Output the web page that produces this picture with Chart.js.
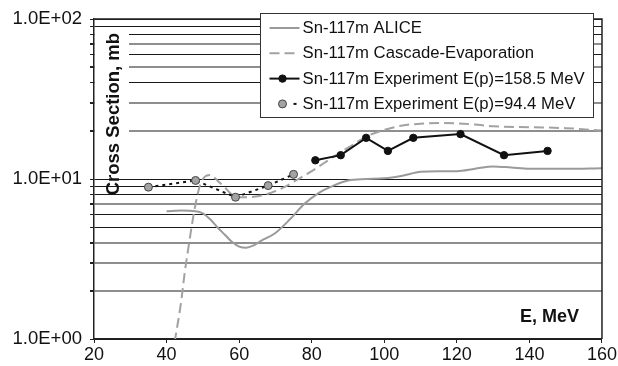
<!DOCTYPE html>
<html>
<head>
<meta charset="utf-8">
<script src="https://cdn.jsdelivr.net/npm/chart.js@4.4.0/dist/chart.umd.min.js"></script>
<style>
  html, body { margin: 0; padding: 0; background: #fff; }
  #chart { display: block; }
</style>
</head>
<body>
<canvas id="chart" width="618" height="366"></canvas>
<script>
// data

const seriesLabels = [
  "Sn-117m ALICE",
  "Sn-117m Cascade-Evaporation",
  "Sn-117m Experiment E(p)=158.5 MeV",
  "Sn-117m Experiment E(p)=94.4 MeV",
];

const aliceE = [40, 44, 48, 50, 52, 54, 56, 58, 60, 62, 64, 66, 70, 74, 78, 82, 86, 90, 95, 100, 105, 110, 115, 120, 125, 130, 135, 140, 150, 160];
const aliceCS = [6.3, 6.35, 6.3, 6.1, 5.6, 5.0, 4.5, 4.05, 3.78, 3.72, 3.85, 4.1, 4.6, 5.6, 7.0, 8.2, 9.1, 9.8, 10.0, 10.1, 10.5, 11.1, 11.2, 11.2, 11.6, 12.0, 11.8, 11.6, 11.6, 11.7];

const cascadeE = [42.2, 44, 45, 46, 47, 48, 49, 50, 51, 52, 53, 54, 56, 58, 60, 64, 68, 72, 76, 80, 85, 90, 95, 100, 105, 110, 115, 120, 125, 130, 140, 150, 160];
const cascadeCS = [0.95, 1.7, 2.6, 3.7, 5.2, 7.0, 8.8, 10.0, 10.5, 10.6, 10.3, 9.8, 8.9, 8.0, 7.7, 7.75, 8.1, 8.8, 9.9, 11.2, 13.3, 15.7, 18.4, 20.3, 21.6, 22.2, 22.4, 22.3, 21.9, 21.4, 21.1, 20.8, 20.1];

const exp158E = [81, 88, 95, 101, 108, 121, 133, 145];
const exp158CS = [13.1, 14.1, 18.1, 15.0, 18.1, 19.1, 14.1, 15.0];

const exp94E = [35, 48, 59, 68, 75];
const exp94CS = [8.9, 9.8, 7.7, 9.1, 10.7];

const xTicks = [20, 40, 60, 80, 100, 120, 140, 160];
const yGridValues = [1, 2, 3, 4, 5, 6, 7, 8, 9, 10, 20, 30, 40, 50, 60, 70, 80, 90, 100];
const yLabelValues = [1, 10, 100];
// grid lines that come out light grey in the picture
const greyGrid = [2, 3, 4, 7, 20, 30, 50, 70];

const xTitle = "E, MeV";
const yTitle = "Cross Section, mb";

const FONT = "'Liberation Sans', Arial, Helvetica, sans-serif";

const pts = (xs, ys) => xs.map((x, i) => ({ x: x, y: ys[i] }));

// titles drawn inside the plot, the y one on a white patch

const axisTitles = {
  id: "axisTitles",
  beforeDatasetsDraw(chart) {
    const { ctx, chartArea } = chart;
    ctx.save();
    ctx.fillStyle = "#fff";
    ctx.fillRect(chartArea.left + 1, chartArea.top + 9, 34, 107);
    ctx.translate(chartArea.left + 20, chartArea.top + 95);
    ctx.rotate(-Math.PI / 2);
    ctx.fillStyle = "#111";
    ctx.font = "bold 18.5px " + FONT;
    ctx.textAlign = "center";
    ctx.textBaseline = "middle";
    ctx.fillText(yTitle, 0, 0);
    ctx.restore();

    ctx.save();
    ctx.fillStyle = "#111";
    ctx.font = "bold 18px " + FONT;
    ctx.textAlign = "right";
    ctx.textBaseline = "alphabetic";
    ctx.fillText(xTitle, chartArea.right - 23, chartArea.bottom - 17);
    ctx.restore();
  },
  afterDraw(chart) {
    const { ctx, chartArea } = chart;
    ctx.save();
    ctx.strokeStyle = "#222";
    ctx.lineWidth = 1.5;
    ctx.beginPath();
    ctx.moveTo(chartArea.left, chartArea.top);
    ctx.lineTo(chartArea.right, chartArea.top);
    ctx.lineTo(chartArea.right, chartArea.bottom);
    ctx.stroke();
    ctx.restore();
  },
};

// boxed legend in the top right corner

const boxLegend = {
  id: "boxLegend",
  afterDraw(chart) {
    const { ctx } = chart;
    const left = 260.5, top = 13.5, w = 333, h = 104;
    ctx.save();
    ctx.fillStyle = "#fff";
    ctx.fillRect(left, top, w, h);
    ctx.strokeStyle = "#333";
    ctx.lineWidth = 1;
    ctx.strokeRect(left, top, w, h);

    ctx.font = "16.7px " + FONT;
    ctx.textBaseline = "middle";
    ctx.textAlign = "left";
    chart.data.datasets.forEach((ds, i) => {
      const y = top + 14.5 + i * 25.3;
      const x0 = left + 9, x1 = left + 39;
      ctx.save();
      ctx.strokeStyle = ds.borderColor;
      ctx.lineWidth = ds.borderWidth;
      ctx.setLineDash(ds.borderDash || []);
      ctx.beginPath();
      if (i === 3) {
        ctx.moveTo(x0 + 24, y);
      } else {
        ctx.moveTo(x0, y);
      }
      ctx.lineTo(x1, y);
      ctx.stroke();
      ctx.setLineDash([]);
      if (ds.pointRadius > 0) {
        ctx.beginPath();
        ctx.arc(x0 + 13, y, ds.pointRadius, 0, Math.PI * 2);
        ctx.fillStyle = ds.pointBackgroundColor;
        ctx.fill();
        ctx.lineWidth = ds.pointBorderWidth;
        ctx.strokeStyle = ds.pointBorderColor;
        ctx.stroke();
      }
      ctx.restore();
      ctx.fillStyle = "#111";
      ctx.fillText(ds.label, left + 42, y + 0.5);
    });
    ctx.restore();
  },
};

new Chart(document.querySelector("#chart").getContext("2d"), {
  type: "line",
  data: {
    datasets: [
      {
        label: seriesLabels[0],
        data: pts(aliceE, aliceCS),
        borderColor: "#9a9a9a",
        borderWidth: 2,
        pointRadius: 0,
        cubicInterpolationMode: "monotone",
        order: 2,
      },
      {
        label: seriesLabels[1],
        data: pts(cascadeE, cascadeCS),
        borderColor: "#a2a2a2",
        borderWidth: 2,
        borderDash: [10, 5],
        pointRadius: 0,
        cubicInterpolationMode: "monotone",
        order: 2,
      },
      {
        label: seriesLabels[2],
        data: pts(exp158E, exp158CS),
        borderColor: "#111",
        borderWidth: 2,
        pointRadius: 3.7,
        pointBackgroundColor: "#111",
        pointBorderColor: "#111",
        pointBorderWidth: 1,
        order: 0,
      },
      {
        label: seriesLabels[3],
        data: pts(exp94E, exp94CS),
        borderColor: "#111",
        borderWidth: 2,
        borderDash: [3, 4],
        pointRadius: 4,
        pointBackgroundColor: "#a3a3a3",
        pointBorderColor: "#444",
        pointBorderWidth: 1,
        order: 0,
      },
    ],
  },
  options: {
    responsive: false,
    animation: false,
    layout: { padding: { top: 19, right: 15, left: 0, bottom: 0 } },
    plugins: {
      legend: { display: false },
      tooltip: { enabled: false },
    },
    scales: {
      x: {
        type: "linear",
        min: 20,
        max: 160,
        afterBuildTicks: (scale) => {
          scale.ticks = xTicks.map((v) => ({ value: v }));
        },
        afterFit: (scale) => {
          scale.height = 27;
        },
        grid: {
          drawOnChartArea: false,
          drawTicks: true,
          tickLength: 4,
          tickColor: "#222",
        },
        border: { color: "#222", width: 1.5 },
        ticks: {
          color: "#111",
          font: { family: FONT, size: 18 },
          padding: 1,
          maxRotation: 0,
          autoSkip: false,
        },
      },
      y: {
        type: "logarithmic",
        min: 1,
        max: 100,
        afterBuildTicks: (scale) => {
          scale.ticks = yGridValues.map((v) => ({ value: v }));
        },
        afterFit: (scale) => {
          scale.width = 94;
        },
        grid: {
          color: (c) => (greyGrid.includes(c.tick && c.tick.value) ? "#8e8e8e" : "#1a1a1a"),
          lineWidth: (c) => (greyGrid.includes(c.tick && c.tick.value) ? 2 : 1),
          drawTicks: true,
          tickLength: 4,
          tickColor: "#222",
        },
        border: { color: "#222", width: 1.5 },
        ticks: {
          color: "#111",
          font: { family: FONT, size: 18.5 },
          padding: 8,
          autoSkip: false,
          callback: (v) => {
            if (!yLabelValues.includes(v)) return "";
            const e = Math.round(Math.log10(v));
            return "1.0E+0" + e;
          },
        },
      },
    },
  },
  plugins: [axisTitles, boxLegend],
});
</script>
</body>
</html>
